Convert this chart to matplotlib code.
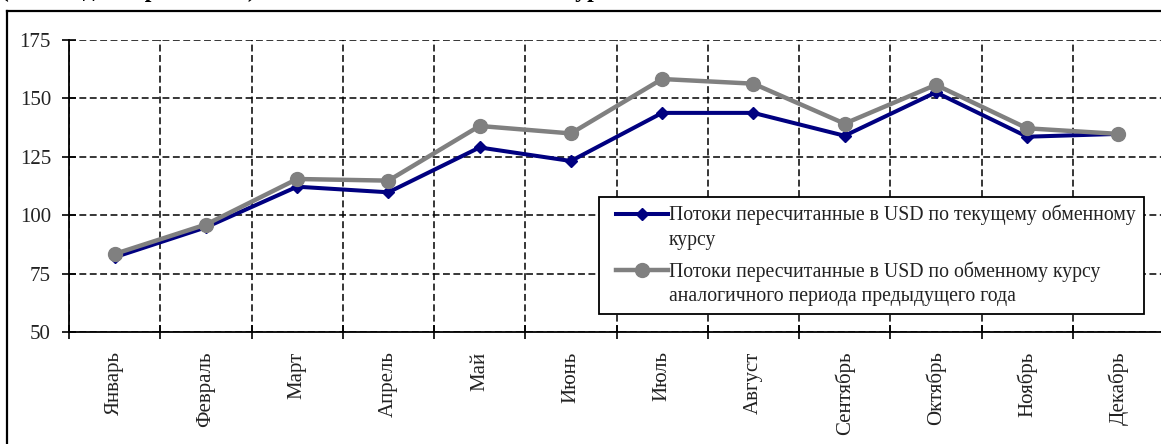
import matplotlib
matplotlib.use("Agg")
import matplotlib.pyplot as plt
import matplotlib.transforms as mtransforms
from matplotlib.lines import Line2D
from matplotlib.legend_handler import HandlerLine2D

plt.rcParams['font.family'] = ['Liberation Serif', 'DejaVu Serif']

months = ["Январь", "Февраль", "Март", "Апрель", "Май", "Июнь",
          "Июль", "Август", "Сентябрь", "Октябрь", "Ноябрь", "Декабрь"]
current_rate = [82, 94.8, 112.2, 109.8, 129, 123.2, 143.8, 143.8, 134, 152.6, 133.6, 134.8]
prev_year_rate = [83.4, 96, 115.5, 114.8, 138.2, 135, 158.3, 156.3, 139.2, 155.8, 137.2, 134.8]
label_current = "Потоки пересчитанные в USD по текущему обменному\nкурсу"
label_prev = "Потоки пересчитанные в USD по обменному курсу\nаналогичного периода предыдущего года"
yticks = [50, 75, 100, 125, 150, 175]

W, H = 1161, 444
fig = plt.figure(figsize=(W / 100, H / 100), dpi=100)
ax = fig.add_axes([69 / W, (H - 332) / H, 1095 / W, 292 / H])

x = list(range(len(months)))
ax.plot(x, current_rate, color='#000080', lw=2.9, marker='D', markersize=6.5,
        zorder=3, label=label_current)
ax.plot(x, prev_year_rate, color='#808080', lw=3.2, marker='o', markersize=10,
        zorder=4, label=label_prev)

ax.set_xlim(-0.5, len(months) - 0.5)
ax.set_ylim(50, 175)
ax.set_yticks(yticks)
ax.set_xticks([i - 0.5 for i in range(len(months) + 1)])
ax.set_xticklabels([])
ax.set_xticks(x, minor=True)
ax.set_xticklabels(months, minor=True, rotation=90, fontsize=15, color='#222222')
ax.tick_params(axis='x', which='minor', length=0, pad=14)
ax.tick_params(axis='x', which='major', direction='inout', length=10, width=1.2)
ax.tick_params(axis='y', direction='inout', length=10, width=1.2, labelsize=15,
               labelcolor='#222222', pad=8)

for s in ['top', 'right']:
    ax.spines[s].set_visible(False)
for s in ['left', 'bottom']:
    ax.spines[s].set_linewidth(1.3)
    ax.spines[s].set_color('black')

ax.grid(True, which='major', color='black', linestyle=(0, (4.5, 2.3)), linewidth=1.1)
ax.set_axisbelow(True)


class UpHandler(HandlerLine2D):
    def create_artists(self, legend, orig_handle, xdescent, ydescent, width,
                       height, fontsize, trans):
        arts = super().create_artists(legend, orig_handle, xdescent, ydescent,
                                      width, height, fontsize, trans)
        for a in arts:
            a.set_transform(mtransforms.Affine2D().translate(0.45 * fontsize, 0.7 * fontsize)
                            + trans)
        return arts


leg = ax.legend(loc='upper left', bbox_to_anchor=(599 / W, 1 - 197 / H),
                bbox_transform=fig.transFigure, frameon=True, fancybox=False,
                edgecolor='black', framealpha=1, borderpad=0.4, borderaxespad=0,
                handlelength=2.65, handletextpad=0.5, labelspacing=0.6,
                numpoints=1, fontsize=14.2, handler_map={Line2D: UpHandler()})
leg.get_frame().set_linewidth(1.3)
leg.set_zorder(10)
for t in leg.get_texts():
    t.set_color('#222222')
    t.set_linespacing(1.38)

# figure border (partially cropped in the original)
fig.add_artist(Line2D([7 / W, 1.05], [1 - 11 / H, 1 - 11 / H], transform=fig.transFigure,
                      color='black', lw=1.6, clip_on=False))
fig.add_artist(Line2D([7 / W, 7 / W], [1 - 11 / H, -0.05], transform=fig.transFigure,
                      color='black', lw=1.6, clip_on=False))

# cropped title fragments above the frame (only their lowest parts are visible)
fig.text(1 / W, 1 + 3.0 / H, "(в млн. долларов США)", fontsize=17, fontweight='bold',
         ha='left', va='baseline', color='black')
fig.text(562 / W, 1 + 3.0 / H, "курса", fontsize=17, fontweight='bold',
         ha='left', va='baseline', color='black')

fig.savefig("out.png", dpi=100)
